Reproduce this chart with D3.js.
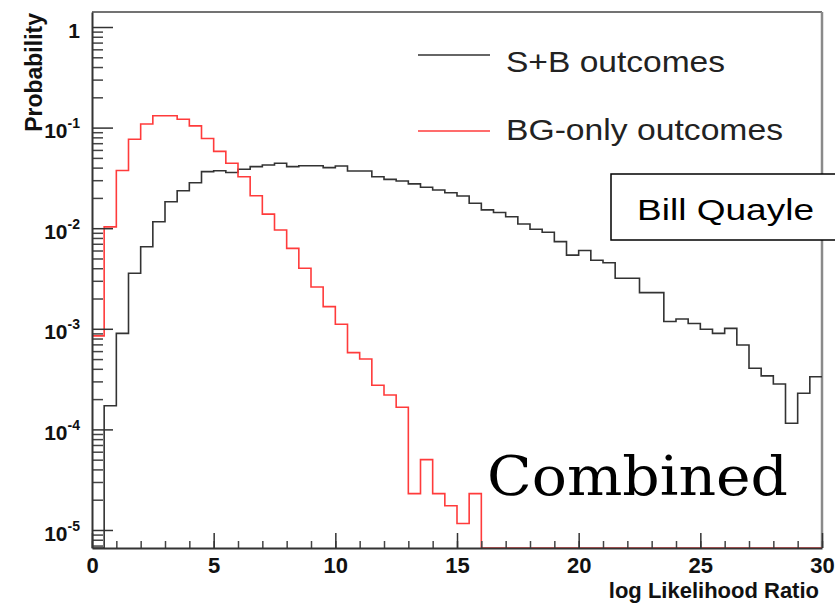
<!DOCTYPE html>
<html>
<head>
<meta charset="utf-8">
<script src="https://cdn.jsdelivr.net/npm/d3@7"></script>
<style>
  body { margin: 0; background: #fff; }
  svg { display: block; }
</style>
</head>
<body>
<svg></svg>
<script>
// bin layout: 60 bins of 0.5 from 0 to 30
var binStart = 0;
var binWidth = 0.5;

// BG-only outcomes (red), read bin by bin
var bgValues = [
  8.5e-4, 0.0103, 0.0374, 0.0766, 0.1086, 0.131, 0.131, 0.121, 0.104, 0.078,
  0.058, 0.0442, 0.0325, 0.021, 0.0138, 0.0096, 0.0063, 0.0040, 0.0026, 0.00166,
  0.00111, 5.8e-4, 5.0e-4, 2.75e-4, 2.2e-4, 1.66e-4, 2.3e-5, 5.0e-5, 2.3e-5, 1.74e-5,
  1.16e-5, 2.3e-5, 0, 0, 0, 0, 0, 0, 0, 0,
  0, 0, 0, 0, 0, 0, 0, 0, 0, 0,
  0, 0, 0, 0, 0, 0, 0, 0, 0, 0
];

// S+B outcomes (black)
var sbValues = [
  0, 1.72e-4, 9.0e-4, 0.00356, 0.00655, 0.0116, 0.0183, 0.0236, 0.0283, 0.0365,
  0.0373, 0.0358, 0.0385, 0.0409, 0.0425, 0.0442, 0.0409, 0.0418, 0.0418, 0.040,
  0.0415, 0.037, 0.037, 0.0325, 0.0306, 0.0295, 0.0276, 0.0255, 0.024, 0.0225,
  0.0209, 0.0177, 0.0152, 0.0143, 0.013, 0.011, 0.00975, 0.0091, 0.00735, 0.0054,
  0.006, 0.0048, 0.00454, 0.00318, 0.00318, 0.00229, 0.00229, 0.00118, 0.00125, 0.00113,
  9.9e-4, 9.0e-4, 0.00101, 6.9e-4, 4.05e-4, 3.4e-4, 2.83e-4, 1.15e-4, 2.29e-4, 3.34e-4
];

var xTicks = [0, 5, 10, 15, 20, 25, 30];
var yTicks = [1, 1e-1, 1e-2, 1e-3, 1e-4, 1e-5];
var yTickLabels = ["1", "-1", "-2", "-3", "-4", "-5"];

var seriesNames = ["S+B outcomes", "BG-only outcomes"];
var seriesColors = ["#333333", "#ff3b3b"];

var width = 835;
var height = 603;
var plotL = 92, plotR = 822, plotT = 12, plotB = 548;

var svg = d3.select("svg")
    .attr("width", width)
    .attr("height", height)
    .style("font-family", "'Liberation Sans', Arial, sans-serif");

var x = d3.scaleLinear()
    .domain([0, 30])
    .range([plotL, plotR]);

var y = d3.scaleLog()
    .domain([6.62e-6, 1.41])
    .range([plotB, plotT]);

svg.append("defs").append("clipPath")
    .attr("id", "plot")
  .append("rect")
    .attr("x", plotL)
    .attr("y", plotT)
    .attr("width", plotR - plotL)
    .attr("height", plotB - plotT);

// frame top / right
svg.append("line")
    .attr("x1", plotL).attr("x2", plotR)
    .attr("y1", plotT).attr("y2", plotT)
    .attr("stroke", "#444")
    .attr("stroke-width", 1.5);

svg.append("line")
    .attr("x1", plotR).attr("x2", plotR)
    .attr("y1", plotT).attr("y2", plotB)
    .attr("stroke", "#8a8a8a")
    .attr("stroke-width", 2.5);

function toPoints(values) {
  var pts = values.map((v, i) => [binStart + i * binWidth, v]);
  pts.push([binStart + values.length * binWidth, values[values.length - 1]]);
  return pts;
}

var line = d3.line()
    .x(d => x(d[0]))
    .y(d => d[1] > 0 ? Math.min(y(d[1]), plotB) : plotB)
    .curve(d3.curveStepAfter);

var hists = svg.append("g").attr("clip-path", "url(#plot)");

hists.append("path")
    .attr("d", line(toPoints(sbValues)))
    .attr("fill", "none")
    .attr("stroke", seriesColors[0])
    .attr("stroke-width", 1.6);

hists.append("path")
    .attr("d", line(toPoints(bgValues)))
    .attr("fill", "none")
    .attr("stroke", seriesColors[1])
    .attr("stroke-width", 1.6);

// y axis: minor ticks then majors
var yMinor = [];
for (var e = -6; e <= 0; e++) {
  for (var m = 2; m <= 9; m++) {
    var v = m * Math.pow(10, e);
    if (v >= y.domain()[0] && v <= y.domain()[1]) yMinor.push(v);
  }
}

svg.append("g")
    .attr("transform", "translate(" + plotL + ",0)")
    .call(d3.axisLeft(y).tickValues(yMinor).tickSizeInner(-11).tickSizeOuter(0).tickFormat(""))
    .call(g => g.select(".domain").remove())
    .call(g => g.selectAll("line").attr("stroke", "#444").attr("stroke-width", 1.5));

var yAxis = svg.append("g")
    .attr("transform", "translate(" + plotL + ",0)")
    .call(d3.axisLeft(y).tickValues(yTicks).tickSizeInner(-21).tickSizeOuter(0).tickPadding(12).tickFormat(""));

yAxis.select(".domain").attr("stroke", "#333").attr("stroke-width", 2);
yAxis.selectAll("line").attr("stroke", "#333").attr("stroke-width", 1.5);

yAxis.selectAll(".tick text")
    .attr("dy", "0.48em")
    .style("font-size", "21px")
    .style("font-weight", "bold")
    .attr("fill", "#111")
    .each(function(d, i) {
      var t = d3.select(this);
      if (d === 1) {
        t.text(yTickLabels[i]);
      } else {
        t.append("tspan").text("10");
        t.append("tspan")
            .attr("dy", "-10")
            .style("font-size", "14px")
            .text(yTickLabels[i]);
      }
    });

// x axis
svg.append("g")
    .attr("transform", "translate(0," + plotB + ")")
    .call(d3.axisBottom(x).tickValues(d3.range(0, 31, 1)).tickSizeInner(-7).tickSizeOuter(0).tickFormat(""))
    .call(g => g.select(".domain").remove())
    .call(g => g.selectAll("line").attr("stroke", "#444").attr("stroke-width", 1.5));

var xAxis = svg.append("g")
    .attr("transform", "translate(0," + plotB + ")")
    .call(d3.axisBottom(x).tickValues(xTicks).tickSizeInner(-15).tickSizeOuter(0).tickPadding(9));

xAxis.select(".domain").attr("stroke", "#333").attr("stroke-width", 2);
xAxis.selectAll("line").attr("stroke", "#333").attr("stroke-width", 1.5);
xAxis.selectAll(".tick text")
    .style("font-size", "22px")
    .style("font-weight", "bold")
    .attr("fill", "#111");

// axis titles
svg.append("text")
    .attr("x", 819)
    .attr("y", 598)
    .attr("text-anchor", "end")
    .style("font-size", "22px")
    .style("font-weight", "bold")
    .attr("fill", "#111")
    .text("log Likelihood Ratio");

svg.append("text")
    .attr("transform", "translate(42,13) rotate(-90)")
    .attr("text-anchor", "end")
    .style("font-size", "23px")
    .style("font-weight", "bold")
    .attr("fill", "#111")
    .text("Probability");

// legend
var legendY = [55, 131];
var legendBase = [72, 140];
var legendLen = [219, 277];

var legend = svg.append("g");
seriesNames.forEach(function(name, i) {
  legend.append("line")
      .attr("x1", 418).attr("x2", 490)
      .attr("y1", legendY[i]).attr("y2", legendY[i])
      .attr("stroke", seriesColors[i])
      .attr("stroke-width", 1.3);
  legend.append("text")
      .attr("x", 506)
      .attr("y", legendBase[i])
      .attr("textLength", legendLen[i])
      .attr("lengthAdjust", "spacingAndGlyphs")
      .style("font-size", "30px")
      .attr("fill", "#222")
      .text(name);
});

// name box
svg.append("rect")
    .attr("x", 611)
    .attr("y", 174)
    .attr("width", 260)
    .attr("height", 66)
    .attr("fill", "#fff")
    .attr("stroke", "#000")
    .attr("stroke-width", 1.5);

svg.append("text")
    .attr("x", 637)
    .attr("y", 220)
    .attr("textLength", 177)
    .attr("lengthAdjust", "spacingAndGlyphs")
    .style("font-size", "29px")
    .attr("fill", "#000")
    .text("Bill Quayle");

svg.append("text")
    .attr("x", 487)
    .attr("y", 495)
    .attr("textLength", 301)
    .attr("lengthAdjust", "spacingAndGlyphs")
    .style("font-family", "'DejaVu Serif', serif")
    .style("font-size", "55px")
    .attr("fill", "#000")
    .text("Combined");
</script>
</body>
</html>
